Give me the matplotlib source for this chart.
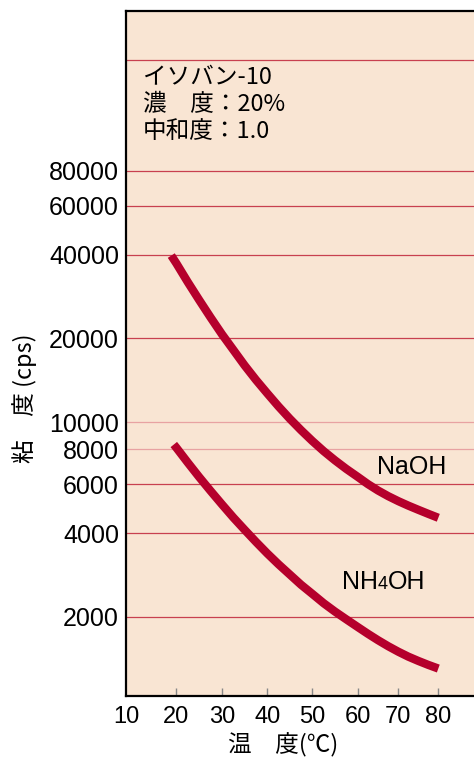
import numpy as np
import matplotlib
matplotlib.use("Agg")
import matplotlib.pyplot as plt
from matplotlib.ticker import FixedLocator, FixedFormatter, NullLocator
from matplotlib.offsetbox import TextArea, HPacker, AnnotationBbox

plt.rcParams['font.family'] = ['Liberation Sans', 'Noto Sans CJK JP', 'DejaVu Sans']
JP = ['Noto Sans CJK JP', 'DejaVu Sans']

# data (viscosity in cps vs temperature in deg C)
temp_naoh = [19, 20, 22.5, 25, 27.5, 30, 32.5, 35, 37.5, 40, 42.5, 45, 47.5, 50,
             52.5, 55, 57.5, 60, 62.5, 65, 67.5, 70, 72.5, 75, 77.5, 80]
visc_naoh = [39700, 37250, 31900, 27500, 23800, 20700, 18200, 16000, 14200, 12700,
             11400, 10300, 9370, 8570, 7880, 7300, 6800, 6370, 6000, 5690, 5430,
             5210, 5020, 4850, 4690, 4540]
temp_nh4 = [19.5, 20, 22.5, 25, 27.5, 30, 32.5, 35, 37.5, 40, 42.5, 45, 47.5, 50,
            52.5, 55, 57.5, 60, 62.5, 65, 67.5, 70, 72.5, 75, 77.5, 80]
visc_nh4 = [8320, 8110, 7170, 6360, 5670, 5070, 4550, 4110, 3720, 3380, 3090,
            2840, 2610, 2420, 2240, 2090, 1960, 1840, 1740, 1650, 1570, 1500,
            1440, 1390, 1345, 1305]

y_ticks = [80000, 60000, 40000, 20000, 10000, 8000, 6000, 4000, 2000]
x_ticks = [10, 20, 30, 40, 50, 60, 70, 80]
grid_levels = [200000, 80000, 60000, 40000, 20000, 10000, 8000, 6000, 4000, 2000]
grid_colors = ['#c8404f', '#c8404f', '#c8404f', '#c8404f', '#c8404f',
               '#e8a2a2', '#e8a2a2', '#c8404f', '#c8404f', '#c8404f']

# the printed temperature axis is not evenly spaced
cal_t = [0, 10, 20, 30, 40, 50, 60, 70, 80, 100]
cal_p = [76, 126, 176.3, 222, 267.3, 312.3, 357.7, 398.3, 438.3, 518.3]

def fwd(t):
    return np.interp(t, cal_t, cal_p)

def inv(p):
    return np.interp(p, cal_p, cal_t)

fig = plt.figure(figsize=(4.74, 7.63), dpi=100)
ax = fig.add_axes([126 / 474, 67 / 763, 360.3 / 474, 685 / 763])
ax.set_facecolor('#f9e5d3')

ax.set_yscale('log')
ax.set_xscale('function', functions=(fwd, inv))
ax.set_xlim(10, 92)
ax.set_ylim(1040, 300000)

for lev, c in zip(grid_levels, grid_colors):
    ax.axhline(lev, color=c, lw=0.9, zorder=1)

line_col = '#b5002c'
ax.plot(temp_naoh, visc_naoh, color=line_col, lw=6, solid_capstyle='butt',
        solid_joinstyle='round', zorder=3)
ax.plot(temp_nh4, visc_nh4, color=line_col, lw=6, solid_capstyle='butt',
        solid_joinstyle='round', zorder=3)

ax.yaxis.set_major_locator(FixedLocator(y_ticks))
ax.yaxis.set_major_formatter(FixedFormatter([str(v) for v in y_ticks]))
ax.yaxis.set_minor_locator(NullLocator())
ax.tick_params(axis='y', length=0, pad=5, labelsize=18)

ax.xaxis.set_major_locator(FixedLocator(x_ticks))
ax.xaxis.set_major_formatter(FixedFormatter([str(v) for v in x_ticks]))
ax.xaxis.set_minor_locator(NullLocator())
ax.tick_params(axis='x', direction='in', length=5.5, width=1, color='#888888',
               pad=7, labelsize=17)
ax.xaxis.get_major_ticks()[0].tick1line.set_visible(False)

for s in ['left', 'bottom', 'top']:
    ax.spines[s].set_linewidth(1.6)
    ax.spines[s].set_color('black')
ax.spines['right'].set_visible(False)

ax.text(0.047, 0.919, 'イソバン-10\n濃　度：20%\n中和度：1.0', transform=ax.transAxes,
        family=JP, fontsize=17, va='top', ha='left', linespacing=1.22, zorder=4)

ax.text(64.7, 6930, 'NaOH', fontsize=18, va='center', ha='left', zorder=4)

parts = [TextArea('NH', textprops=dict(fontsize=18)),
         TextArea('4', textprops=dict(fontsize=13)),
         TextArea('OH', textprops=dict(fontsize=18))]
box = HPacker(children=parts, align='baseline', pad=0, sep=0)
ab = AnnotationBbox(box, (56.5, 2665), frameon=False, box_alignment=(0, 0.5), zorder=4)
ax.add_artist(ab)

fig.text(283 / 474, 1 - 745 / 763, '温　度(℃)', family=JP, fontsize=17,
         ha='center', va='center')
fig.text(25 / 474, 1 - 398 / 763, '粘　度 (cps)', family=JP, fontsize=17,
         ha='center', va='center', rotation=90)

fig.savefig('out.png', dpi=100)
